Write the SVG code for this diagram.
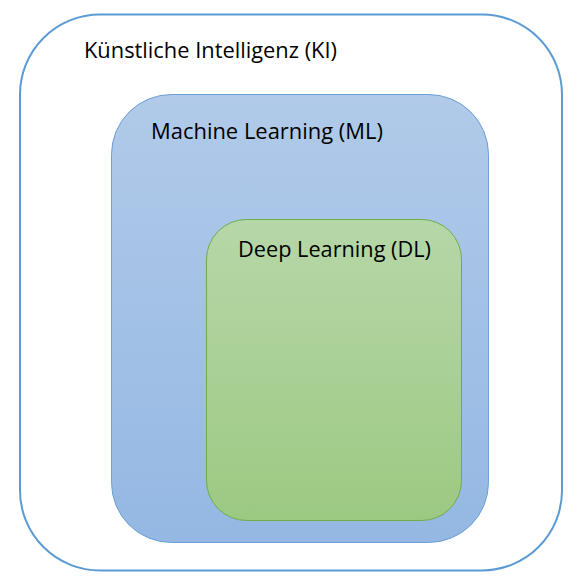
<svg xmlns="http://www.w3.org/2000/svg" width="581" height="587" viewBox="0 0 581 587">
<defs>
<linearGradient id="gML" x1="0" y1="0" x2="0" y2="1">
<stop offset="0" stop-color="#b1cae9"/>
<stop offset="1" stop-color="#94b8e3"/>
</linearGradient>
<linearGradient id="gDL" x1="0" y1="0" x2="0" y2="1">
<stop offset="0" stop-color="#b6d7a8"/>
<stop offset="1" stop-color="#9cc982"/>
</linearGradient>
<style>
text{font-family:"Open Sans","Liberation Sans",sans-serif;font-size:21.5px;fill:#000}
</style>
</defs>
<rect width="581" height="587" fill="#fff"/>
<g id="ki">
<rect x="20" y="14.5" width="542" height="556" rx="80" ry="80" fill="#fff" stroke="#5b9bd5" stroke-width="2"/>
<text x="84" y="58" textLength="253" lengthAdjust="spacingAndGlyphs">Künstliche Intelligenz (KI)</text>
</g>
<g id="ml">
<rect x="111.5" y="94.5" width="377" height="448" rx="60" ry="60" fill="url(#gML)" stroke="#6b9fd6" stroke-width="1"/>
<text x="151" y="138.5" textLength="232" lengthAdjust="spacingAndGlyphs">Machine Learning (ML)</text>
</g>
<g id="dl">
<rect x="206.5" y="219.5" width="255" height="301" rx="40" ry="40" fill="url(#gDL)" stroke="#70ad47" stroke-width="1"/>
<text x="238" y="257" textLength="193" lengthAdjust="spacingAndGlyphs">Deep Learning (DL)</text>
</g>
<g id="connectors"/>
</svg>
